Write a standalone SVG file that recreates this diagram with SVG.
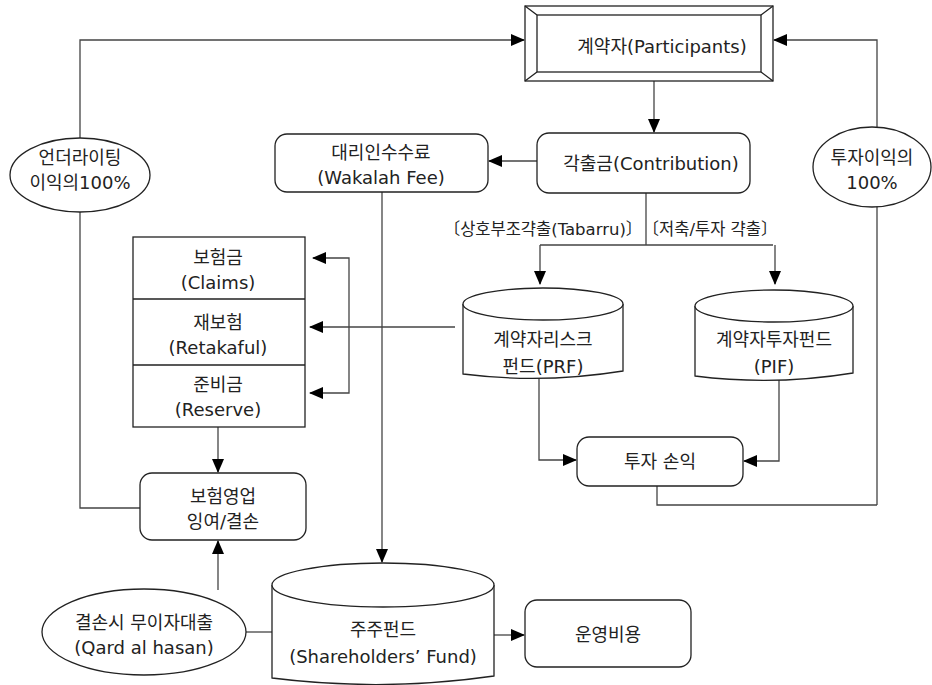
<svg xmlns="http://www.w3.org/2000/svg" width="932" height="685" viewBox="0 0 932 685">
<style>
.s{fill:#fff;stroke:#222;stroke-width:1.3}
.c{fill:none;stroke:#444;stroke-width:1.3}
.a{marker-end:url(#ah)}
text{font-family:"DejaVu Sans","Noto Sans CJK KR",sans-serif;font-size:18px;fill:#222;text-anchor:middle}
.sm{font-size:16.5px}
</style>
<defs>
<marker id="ah" markerUnits="userSpaceOnUse" markerWidth="14" markerHeight="12" refX="13" refY="6" orient="auto">
<path d="M0,0 L14,6 L0,12 Z" fill="#000"/>
</marker>
</defs>
<rect width="932" height="685" fill="#fff"/>
<g id="connectors">
<path class="c a" d="M80,138 V40 H524"/>
<path class="c" d="M80,212 V508 H140"/>
<path class="c" d="M657,486 V505 H877"/>
<path class="c a" d="M877,505 V40 H774"/>
<path class="c a" d="M654,81 V132"/>
<path class="c a" d="M537,161 H489"/>
<path class="c" d="M646,193 V245"/>
<path class="c a" d="M540,245 H773 M540,245 V284"/>
<path class="c a" d="M775,245 V284"/>
<path class="c a" d="M455,327 H310"/>
<path class="c a" d="M349,327 V258 H313"/>
<path class="c a" d="M349,327 V393 H310"/>
<path class="c a" d="M382,192 V562"/>
<path class="c a" d="M539,378 V460 H576"/>
<path class="c a" d="M779,377 V461 H744"/>
<path class="c a" d="M218,427 V472"/>
<path class="c a" d="M218,590 V541"/>
<path class="c" d="M246,632 H272"/>
<path class="c a" d="M494,635 H524"/>
</g>
<g id="participants">
<rect class="s" x="525" y="6" width="248" height="75"/>
<rect class="s" x="537" y="15" width="224" height="57"/>
<path class="c" d="M525,6 L537,15 M773,6 L761,15 M525,81 L537,72 M773,81 L761,72" style="stroke:#222"/>
<text x="662" y="53">계약자(Participants)</text>
</g>
<g id="underwriting-profit">
<ellipse class="s" cx="80" cy="175" rx="70" ry="37"/>
<text x="80" y="164">언더라이팅</text>
<text x="80" y="189">이익의100%</text>
</g>
<g id="investment-profit">
<ellipse class="s" cx="872" cy="167" rx="59" ry="40"/>
<text x="872" y="164">투자이익의</text>
<text x="872" y="189">100%</text>
</g>
<g id="wakalah">
<rect class="s" x="275" y="134" width="213" height="58" rx="12"/>
<text x="381" y="159">대리인수수료</text>
<text x="381" y="184">(Wakalah Fee)</text>
</g>
<g id="contribution">
<rect class="s" x="537" y="133" width="213" height="60" rx="12"/>
<text x="651" y="170">각출금(Contribution)</text>
</g>
<g id="labels">
<text class="sm" x="543" y="235">〔상호부조갹출(Tabarru)〕</text>
<text class="sm" x="710" y="235">〔저축/투자 갹출〕</text>
</g>
<g id="claims-stack">
<rect class="s" x="133" y="237" width="172" height="190"/>
<path class="c" d="M133,299 H305 M133,365 H305" style="stroke:#222"/>
<text x="218" y="264">보험금</text>
<text x="218" y="289">(Claims)</text>
<text x="218" y="329">재보험</text>
<text x="218" y="354">(Retakaful)</text>
<text x="218" y="391">준비금</text>
<text x="218" y="416">(Reserve)</text>
</g>
<g id="prf">
<path class="s" d="M463,304 V374 Q543,384 623,371 V304"/>
<ellipse class="s" cx="543" cy="304" rx="80" ry="16"/>
<text x="543" y="346">계약자리스크</text>
<text x="543" y="373">펀드(PRF)</text>
</g>
<g id="pif">
<path class="s" d="M695,306 V376 Q774,386 853,373 V306"/>
<ellipse class="s" cx="774" cy="306" rx="79" ry="16"/>
<text x="774" y="346">계약자투자펀드</text>
<text x="774" y="373">(PIF)</text>
</g>
<g id="investment-pl">
<rect class="s" x="577" y="437" width="166" height="49" rx="12"/>
<text x="660" y="468">투자 손익</text>
</g>
<g id="underwriting-result">
<rect class="s" x="140" y="473" width="166" height="67" rx="12"/>
<text x="223" y="503">보험영업</text>
<text x="223" y="528">잉여/결손</text>
</g>
<g id="qard">
<ellipse class="s" cx="144" cy="632" rx="102" ry="43"/>
<text x="144" y="629">결손시 무이자대출</text>
<text x="144" y="654">(Qard al hasan)</text>
</g>
<g id="shareholders-fund">
<path class="s" d="M272,585 V678 Q383,692 494,676 V585"/>
<ellipse class="s" cx="383" cy="585" rx="111" ry="22"/>
<text x="383" y="636">주주펀드</text>
<text x="383" y="663">(Shareholders’ Fund)</text>
</g>
<g id="operating-cost">
<rect class="s" x="525" y="600" width="166" height="67" rx="12"/>
<text x="608" y="641">운영비용</text>
</g>
</svg>
